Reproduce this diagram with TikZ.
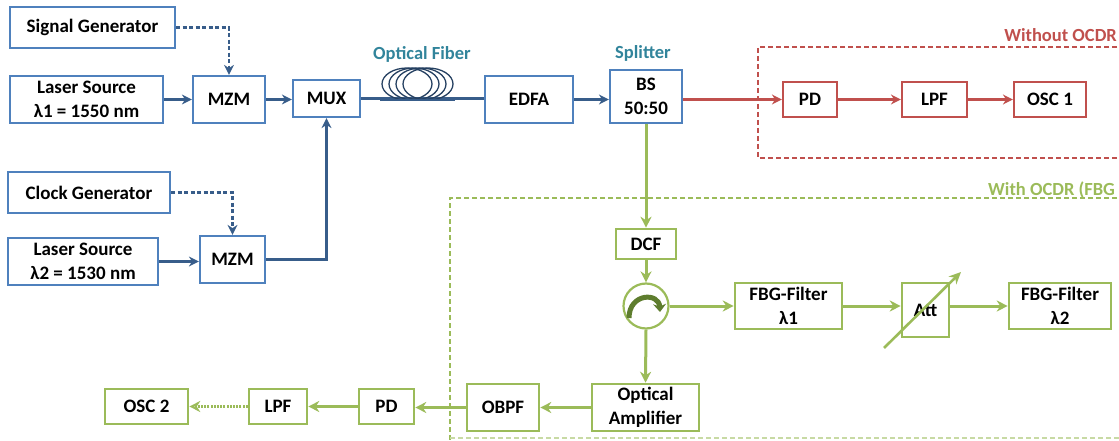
\documentclass[tikz,border=0pt]{standalone}
\usepackage{fontspec}
\setmainfont{Carlito}
\usetikzlibrary{arrows.meta}
\definecolor{bbord}{HTML}{4F81BD}
\definecolor{bline}{HTML}{385D8A}
\definecolor{rcol}{HTML}{C0504D}
\definecolor{gcol}{HTML}{9BBB59}
\definecolor{tcol}{HTML}{31849B}
\definecolor{dgreen}{HTML}{5E7D2E}
\definecolor{fibcol}{HTML}{254061}
\tikzset{
  box/.style={draw, line width=2.2pt, fill=white, inner sep=0pt, align=center,
    font=\fontsize{19}{24}\selectfont\bfseries, text=black},
  bbox/.style={box, draw=bbord},
  rbox/.style={box, draw=rcol},
  gbox/.style={box, draw=gcol, line width=2.6pt},
  sz/.style 2 args={minimum width=#1pt, minimum height=#2pt},
  barrow/.style={draw=bline, line width=2.2pt, -{Stealth[length=10pt,width=10pt]}},
  bdash/.style={barrow, dash pattern=on 4pt off 2.5pt},
  rarrow/.style={draw=rcol, line width=2.4pt, -{Stealth[length=10pt,width=10pt]}},
  garrow/.style={draw=gcol, line width=3pt, -{Stealth[length=11pt,width=11pt]}},
  lbl/.style={font=\fontsize{18.5}{22}\selectfont\bfseries, inner sep=0pt},
}
\begin{document}
\begin{tikzpicture}[x=1pt,y=-1pt]
\useasboundingbox (0,0) rectangle (1119,441);
\clip (0,0) rectangle (1119,441);
% region boxes
\draw[rcol, line width=2.2pt, dash pattern=on 5pt off 3pt] (1125,47) -- (758,47) -- (758,158) -- (1125,158);
\draw[gcol, line width=2.2pt, dash pattern=on 5pt off 3pt] (1125,198) -- (450,198) -- (450,450);
\draw[gcol!55, line width=1.6pt, dash pattern=on 5pt off 3pt] (450,438) -- (1125,438);
\node[lbl, text=rcol, anchor=east] (lwo) at (1117,35) {Without OCDR};
\node[lbl, text=gcol, anchor=west] (lw) at (988,190) {With OCDR (FBG};
% blue nodes
\node[bbox, sz={165}{41}] (sg) at (92.5,27.5) {Signal Generator};
\node[bbox, sz={153}{47}] (ls1) at (86.5,99.5) {Laser Source\\λ1 = 1550 nm};
\node[bbox, sz={72}{47}] (mzm1) at (229,99.5) {MZM};
\node[bbox, sz={67}{37}] (mux) at (326.5,98.5) {MUX};
\node[bbox, sz={88}{47}] (edfa) at (529,99.5) {EDFA};
\node[bbox, sz={72}{53}] (bs) at (646,96.5) {BS\\50:50};
\node[bbox, sz={162}{41}] (cg) at (89,192.5) {Clock Generator};
\node[bbox, sz={150}{47}] (ls2) at (83,261.5) {Laser Source\\λ2 = 1530 nm};
\node[bbox, sz={65}{47}] (mzm2) at (232.5,259.5) {MZM};
\node[lbl, text=tcol] (lof) at (422,54) {Optical Fiber};
\node[lbl, text=tcol] (lsp) at (643,53) {Splitter};
% red nodes
\node[rbox, sz={54}{35}] (pd1) at (810,99.5) {PD};
\node[rbox, sz={65}{35}] (lpf1) at (934.5,99.5) {LPF};
\node[rbox, sz={72}{35}] (osc1) at (1050,99.5) {OSC 1};
% green nodes
\node[gbox, sz={60}{30}] (dcf) at (646,244) {DCF};
\node[draw=gcol, line width=2.2pt, circle, minimum size=45pt, inner sep=0pt, fill=white] (circ) at (646,306) {};
\node[gbox, sz={107}{46}] (fbg1) at (788.5,306) {FBG-Filter\\λ1};
\node[gbox, sz={47}{54}] (att) at (925.5,310) {Att};
\node[gbox, sz={102}{46}] (fbg2) at (1060,306) {FBG-Filter\\λ2};
\node[gbox, sz={107}{47}] (oa) at (645.5,407.5) {Optical\\Amplifier};
\node[gbox, sz={72}{47}] (obpf) at (503,407.5) {OBPF};
\node[gbox, sz={55}{35}] (pd2) at (386.5,406.5) {PD};
\node[gbox, sz={58}{35}] (lpf2) at (278,406.5) {LPF};
\node[gbox, sz={83}{35}] (osc2) at (146.5,406.5) {OSC 2};
% blue connectors
\draw[bdash] (sg.east) -| (mzm1.north);
\draw[bdash] (cg.east) -| (mzm2.north);
\draw[barrow] (ls1.east) -- (mzm1.west);
\draw[barrow] (mzm1.east) -- (mux.west |- mzm1.east);
\draw[barrow] (ls2.east) -- (mzm2.west |- ls2.east);
\draw[barrow] (mzm2.east) -| (mux.south);
\draw[draw=bline, line width=2.2pt] (mux.east) -- (edfa.west |- mux.east);
\draw[barrow] (edfa.east) -- (bs.west |- edfa.east);
% fiber coil
\foreach \cx in {407,414,421,428}
  \draw[fibcol, line width=1.3pt] (\cx,84) ellipse [x radius=25, y radius=16];
\draw[draw=bline, line width=2.2pt] (380,100) -- (455,100);
% red connectors
\draw[rarrow] (bs.east |- pd1.west) -- (pd1.west);
\draw[rarrow] (pd1.east) -- (lpf1.west);
\draw[rarrow] (lpf1.east) -- (osc1.west);
% green connectors
\draw[garrow] (bs.south) -- (dcf.north);
\draw[garrow] (dcf.south) -- (circ.north);
\draw[garrow] (circ.east) -- (fbg1.west);
\draw[garrow] (fbg1.east) -- (att.west |- fbg1.east);
\draw[garrow] (att.east |- fbg2.west) -- (fbg2.west);
\draw[garrow] (circ.south) -- (oa.north);
\draw[garrow] (oa.west) -- (obpf.east);
\draw[garrow] (obpf.west) -- (pd2.east |- obpf.west);
\draw[garrow] (pd2.west) -- (lpf2.east);
\draw[gcol, line width=3pt, dash pattern=on 2pt off 1.2pt, -{Stealth[length=11pt,width=11pt,open]}] (lpf2.west) -- (osc2.east);
% attenuator variable arrow
\coordinate (a1) at (884,348);
\coordinate (a2) at (961,272);
\draw[gcol, line width=2.6pt, -{Stealth[length=12pt,width=11pt]}] (a1) -- (a2);
% circulator symbol
\draw[dgreen, line width=5pt, -{Stealth[length=8pt,width=13pt]}] (629,318) .. controls (629,293) and (659,292) .. (660,312);
\end{tikzpicture}
\end{document}
